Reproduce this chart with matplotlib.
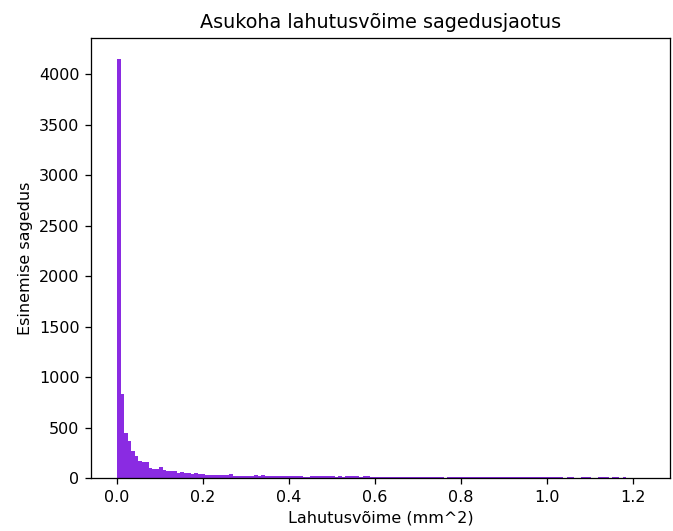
import numpy as np
import matplotlib
matplotlib.use("Agg")
import matplotlib.pyplot as plt

# histogram of location resolution (mm^2): 150 equal bins, counts per bin
bin_lo, bin_hi = 0.0008, 1.2263

counts_head = [4150, 832, 448, 366, 267, 218, 171, 161, 161, 106, 89, 89, 112, 79]
counts_mid = [69, 69, 69, 52, 63, 55, 50, 45, 50, 40, 45, 35, 35, 33, 33, 33, 33, 33,
              40, 27, 20, 27, 27, 27, 20, 30, 20, 30, 20, 20, 20, 20, 20, 20, 20, 20,
              20, 20, 20]
counts_tail_a = [10, 10, 20, 20, 20, 20, 20, 20, 20, 10, 20, 10, 20, 20, 20, 20, 10,
                 20, 20, 10, 9, 9, 9, 9, 9]
counts_tail_b = [9, 9, 9, 9, 9, 9, 9, 9, 9, 9, 9, 9, 9, 9, 9, 0]
counts_tail_c = [13, 13, 13, 13, 13, 13, 13, 13, 13, 13, 13,
                 13, 13, 13, 13, 13, 13, 13, 13, 13, 13, 13,
                 13, 13, 13, 13, 13, 13, 13, 13, 13, 13, 13]
counts_tail_d = [0, 12, 12, 0, 0, 12, 12, 12, 0, 0, 12, 12, 12, 0, 12, 12, 0, 12,
                 0, 0, 0, 0, 1]

counts = np.array(counts_head + counts_mid + counts_tail_a + counts_tail_b
                  + counts_tail_c + counts_tail_d, dtype=float)
edges = np.linspace(bin_lo, bin_hi, len(counts) + 1)
centers = 0.5 * (edges[:-1] + edges[1:])

dpi = 115
fig = plt.figure(figsize=(673 / dpi, 531 / dpi), dpi=dpi)
ax = fig.add_axes([0.1348, 0.0992, 0.861, 0.8294])
ax.hist(centers, bins=edges, weights=counts, color="blueviolet")
ax.set_xlim(-0.0605, 1.2875)
ax.set_title("Asukoha lahutusvõime sagedusjaotus")
ax.set_xlabel("Lahutusvõime (mm^2)")
ax.set_ylabel("Esinemise sagedus")

fig.savefig("out.png", dpi=dpi)
